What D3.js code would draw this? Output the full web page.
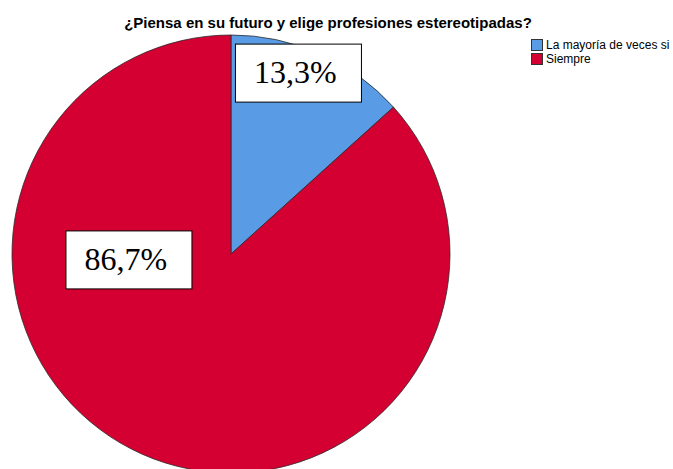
<!DOCTYPE html>
<html>
<head>
<meta charset="utf-8">
<script src="https://cdn.jsdelivr.net/npm/d3@7"></script>
<style>
  body { margin: 0; background: #fff; }
  svg { display: block; }
</style>
</head>
<body>
<div id="chart"></div>
<script>
var categories = ["La mayoría de veces si", "Siempre"]
var percents = [13.3, 86.7]
var colors = ["#5a9be5", "#d40032"]
var chartTitle = "¿Piensa en su futuro y elige profesiones estereotipadas?"

var width = 673, height = 469
var cx = 231, cy = 254, radius = 219

// where the percentage boxes sit, relative to the pie centre (in radii)
var labelOffsets = [[0.308, -0.826], [-0.466, 0.027]]

var svg = d3.select("#chart")
    .append("svg")
    .attr("width", width)
    .attr("height", height)

svg.append("text")
    .attr("x", 328)
    .attr("y", 28)
    .attr("text-anchor", "middle")
    .style("font-family", "Arial, 'Liberation Sans', sans-serif")
    .style("font-weight", "bold")
    .style("font-size", "15px")
    .text(chartTitle)

var pie = d3.pie().sort(null).value(function(d) { return d })
var arc = d3.arc().innerRadius(0).outerRadius(radius)

var g = svg.append("g")
    .attr("transform", "translate(" + cx + "," + cy + ")")

g.selectAll("path")
    .data(pie(percents))
    .enter()
    .append("path")
        .attr("d", arc)
        .attr("fill", function(d, i) { return colors[i] })
        .attr("stroke", "#2b2b2b")
        .attr("stroke-width", 0.8)

var fmt = function(v) { return v.toFixed(1).replace(".", ",") + "%" }

var labels = g.selectAll(".lbl")
    .data(percents)
    .enter()
    .append("g")
    .attr("class", "lbl")
    .attr("transform", function(d, i) {
        return "translate(" + (labelOffsets[i][0] * radius) + "," + (labelOffsets[i][1] * radius) + ")"
    })

labels.append("rect")
    .attr("x", -63)
    .attr("y", -29)
    .attr("width", 126)
    .attr("height", 58)
    .attr("fill", "#fff")
    .attr("stroke", "#000")
    .attr("stroke-width", 1)

labels.append("text")
    .attr("x", -3)
    .attr("y", 10)
    .attr("text-anchor", "middle")
    .style("font-family", "'Liberation Serif', 'Times New Roman', serif")
    .style("font-size", "32px")
    .text(fmt)

var legend = svg.append("g")
    .attr("transform", "translate(531,39)")

var items = legend.selectAll("g")
    .data(categories)
    .enter()
    .append("g")
    .attr("transform", function(d, i) { return "translate(0," + (i * 14) + ")" })

items.append("rect")
    .attr("x", 0.5)
    .attr("y", 0.5)
    .attr("width", 11)
    .attr("height", 11)
    .attr("fill", function(d, i) { return colors[i] })
    .attr("stroke", "#333")
    .attr("stroke-width", 1)

items.append("text")
    .attr("x", 15)
    .attr("y", 10)
    .style("font-family", "Arial, 'Liberation Sans', sans-serif")
    .style("font-size", "12px")
    .text(function(d) { return d })
</script>
</body>
</html>
